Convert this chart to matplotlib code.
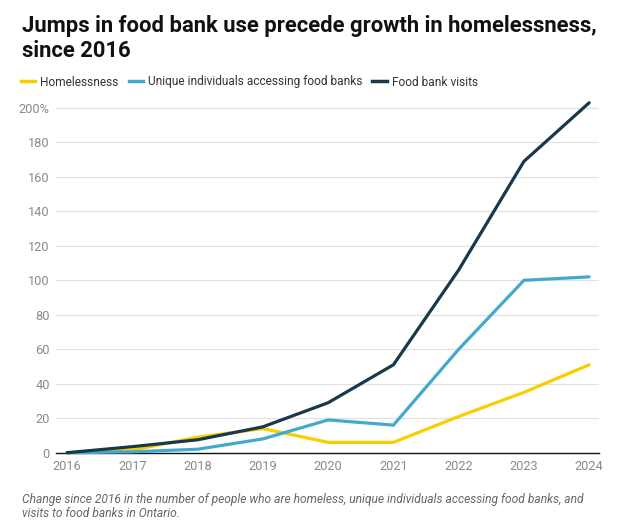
import matplotlib
matplotlib.use("Agg")
import matplotlib.pyplot as plt
from matplotlib.lines import Line2D

years = [2016, 2017, 2018, 2019, 2020, 2021, 2022, 2023, 2024]
homelessness = [0, 1.5, 9, 14, 6, 6, 21, 35, 51]
unique_individuals = [0, 0.5, 2, 8, 19, 16, 60, 100, 102]
food_bank_visits = [0, 3.5, 7.5, 15, 29, 51, 106, 169, 203]
series_names = ["Homelessness", "Unique individuals accessing food banks", "Food bank visits"]
colors = ["#f9cd00", "#44aacb", "#17394a"]
y_ticks = [0, 20, 40, 60, 80, 100, 120, 140, 160, 180, 200]
y_labels = ["0", "20", "40", "60", "80", "100", "120", "140", "160", "180", "200%"]

plt.rcParams['font.family'] = ['Roboto', 'DejaVu Sans']

fig = plt.figure(figsize=(6.29, 5.24), dpi=100)
ax = fig.add_axes([56/629, 1-452.7/524, 543/629, (452.7-99.3)/524])

for vals, c in zip([homelessness, unique_individuals, food_bank_visits], colors):
    ax.plot(years, vals, color=c, lw=2.3, solid_capstyle='round', solid_joinstyle='miter', clip_on=False, zorder=3)

ax.set_xlim(2015.83, 2024.15)
ax.set_ylim(0, 205)
ax.set_yticks(y_ticks)
ax.set_yticklabels(y_labels)
ax.set_xticks(years)
ax.set_xticklabels([str(y) for y in years])
ax.grid(axis='y', color='#e2e2e2', lw=0.9)
ax.set_axisbelow(True)
for s in ['top', 'right', 'left']:
    ax.spines[s].set_visible(False)
ax.spines['bottom'].set_color('#111111')
ax.spines['bottom'].set_linewidth(1.0)
ax.tick_params(axis='both', length=0, colors='#8a8a8a', labelsize=9.2)
ax.tick_params(axis='y', pad=4.5)
ax.tick_params(axis='x', pad=5)

fig.text(22/629, 1-57/524, "Jumps in food bank use precede growth in homelessness,\nsince 2016",
         fontsize=15.8, fontweight='bold', color='#111111', va='baseline', ha='left', linespacing=1.2)

handles = [Line2D([0], [0], color=c, lw=2.5) for c in colors]
leg = fig.legend(handles, series_names, loc='center left', bbox_to_anchor=(21/629, 1-82/524),
                 ncol=3, frameon=False, fontsize=8.6, handlelength=1.2, handletextpad=0.4,
                 columnspacing=0.85, borderaxespad=0, borderpad=0)
for t in leg.get_texts():
    t.set_color('#333333')

fig.text(22/629, 1-517/524,
         "Change since 2016 in the number of people who are homeless, unique individuals accessing food banks, and\nvisits to food banks in Ontario.",
         fontsize=8.65, style='italic', color='#666666', va='baseline', ha='left', linespacing=1.15)

fig.savefig("out.png", dpi=100)
